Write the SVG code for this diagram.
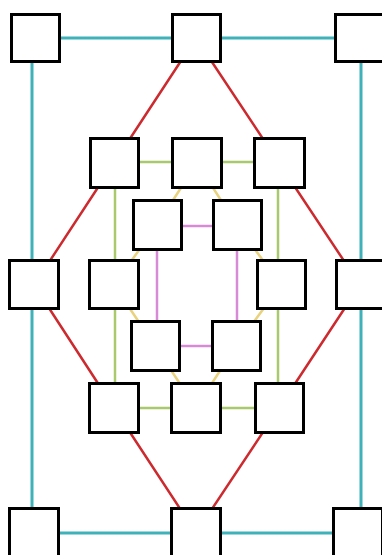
<svg xmlns="http://www.w3.org/2000/svg" width="382" height="555" viewBox="0 0 382 555">
<style>
.n{fill:#fff;stroke:#000;stroke-width:3}
.c{stroke:#3fb1b9;stroke-width:3;fill:none}
.r{stroke:#cc2a2e;stroke-width:2.5;fill:none}
.g{stroke:#a9c96c;stroke-width:2.5;fill:none}
.p{stroke:#d98ad6;stroke-width:2.5;fill:none}
.y{stroke:#e9d27e;stroke-width:2.5;fill:none}
</style>
<rect width="382" height="555" fill="#fff"/>
<g id="connectors">
<path class="c" d="M35 38H359M32 38V533M361 38V533M34 533H358"/>
<path class="r" d="M196 38L114 163M196 38L279 163M114 163L34 285M34 285L114 408M114 408L196 533M279 408L196 533M279 163L360 285M360 285L279 408"/>
<path class="g" d="M114 162H279M115 163V408M278 163V408M114 408H279"/>
<path class="p" d="M157 226H237M157 225V346M237 225V346M155 346H237"/>
<path class="y" d="M197 163L157 225L114 285L155 346L196 408L236 346L281 285L237 225Z"/>
</g>
<g id="n-tl"><rect class="n" x="11.5" y="14.5" width="48" height="47"/></g>
<g id="n-tm"><rect class="n" x="172.5" y="14.5" width="48" height="47"/></g>
<g id="n-tr"><rect class="n" x="335.5" y="14.5" width="48" height="47"/></g>
<g id="n-a"><rect class="n" x="90.5" y="138.5" width="48" height="49"/></g>
<g id="n-b"><rect class="n" x="172.5" y="138.5" width="49" height="49"/></g>
<g id="n-c"><rect class="n" x="254.5" y="138.5" width="50" height="49"/></g>
<g id="n-d"><rect class="n" x="133.5" y="200.5" width="48" height="49"/></g>
<g id="n-e"><rect class="n" x="213.5" y="200.5" width="48" height="49"/></g>
<g id="n-lout"><rect class="n" x="9.5" y="260.5" width="49" height="48"/></g>
<g id="n-lin"><rect class="n" x="89.5" y="260.5" width="49" height="48"/></g>
<g id="n-rin"><rect class="n" x="257.5" y="260.5" width="48" height="48"/></g>
<g id="n-rout"><rect class="n" x="336.5" y="260.5" width="49" height="48"/></g>
<g id="n-f"><rect class="n" x="131.5" y="321.5" width="48" height="49"/></g>
<g id="n-g"><rect class="n" x="212.5" y="321.5" width="48" height="49"/></g>
<g id="n-a4"><rect class="n" x="89.5" y="383.5" width="49" height="49"/></g>
<g id="n-b4"><rect class="n" x="171.5" y="383.5" width="49" height="49"/></g>
<g id="n-c4"><rect class="n" x="255.5" y="383.5" width="48" height="49"/></g>
<g id="n-bl"><rect class="n" x="9.5" y="508.5" width="49" height="49"/></g>
<g id="n-bm"><rect class="n" x="171.5" y="508.5" width="49" height="49"/></g>
<g id="n-br"><rect class="n" x="333.5" y="508.5" width="49" height="49"/></g>
</svg>
